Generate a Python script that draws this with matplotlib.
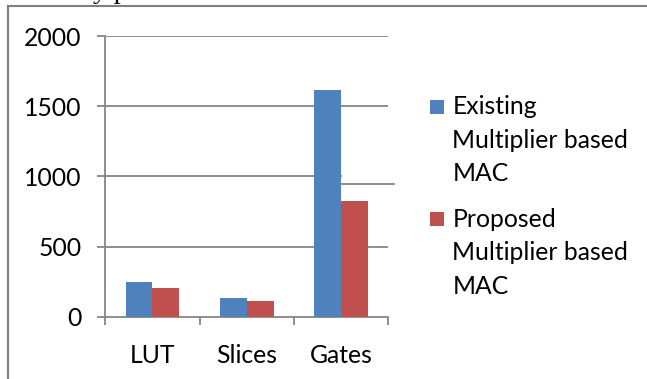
import matplotlib
matplotlib.use("Agg")
import matplotlib.pyplot as plt
from matplotlib.patches import Rectangle
from matplotlib.lines import Line2D

categories = ["LUT", "Slices", "Gates"]
existing = [245, 133, 1613]
proposed = [204, 112, 824]
series_labels = ["Existing\nMultiplier based\nMAC", "Proposed\nMultiplier based\nMAC"]
yticks = [0, 500, 1000, 1500, 2000]

BLUE = "#4F81BD"
RED = "#C0504D"
GRID = "#868686"
FONT = "Lato"
FS = 17.8

W, H = 647, 379
fig = plt.figure(figsize=(W / 100, H / 100), dpi=100)
fig.patch.set_facecolor("white")

# plot area in pixels (left, top, right, bottom)
L, T, R, B = 105.3, 36.0, 388.3, 316.7
ax = fig.add_axes([L / W, 1 - B / H, (R - L) / W, (B - T) / H])
ax.set_facecolor("none")

x = list(range(len(categories)))
bw = 0.285
ax.bar([i - bw / 2 for i in x], existing, width=bw, color=BLUE, zorder=3)
ax.bar([i + bw / 2 for i in x], proposed, width=bw, color=RED, zorder=3)

ax.set_xlim(-0.5, len(categories) - 0.5)
ax.set_ylim(0, 2000)
ax.set_yticks(yticks)
ax.set_yticklabels([str(v) for v in yticks])
ax.set_xticks(x)
ax.set_xticklabels(categories)
ax.set_xticks([i - 0.5 for i in range(len(categories) + 1)], minor=True)

for s in ["top", "right"]:
    ax.spines[s].set_visible(False)
for s in ["left", "bottom"]:
    ax.spines[s].set_color(GRID)
    ax.spines[s].set_linewidth(1.3)

ax.tick_params(axis="x", which="major", length=0, pad=20, labelsize=FS)
ax.tick_params(axis="x", which="minor", length=6, width=1.3, color=GRID, direction="out")
ax.tick_params(axis="y", length=6, width=1.3, color=GRID, direction="out", pad=11, labelsize=FS)
for lab in ax.get_xticklabels() + ax.get_yticklabels():
    lab.set_fontfamily(FONT)

# horizontal gridlines; the 1000 line is offset to the right of the tallest bar
x0, x1 = ax.get_xlim()
for v in yticks[1:]:
    if v == 1000:
        edge = x[-1]
        ax.plot([x0, edge], [v, v], color=GRID, lw=1.3, zorder=1)
        ax.plot([edge, x1 + 0.06], [v - 57, v - 57], color=GRID, lw=1.3,
                zorder=1, clip_on=False)
    else:
        ax.axhline(v, color=GRID, lw=1.3, zorder=1)

# outer frame of the chart object (top and left edges)
fig.add_artist(Line2D([7.5 / W, 1.0], [1 - 6 / H, 1 - 6 / H], color="#7f7f7f", lw=1.5))
fig.add_artist(Line2D([7.5 / W, 7.5 / W], [0, 1 - 6 / H], color="#7f7f7f", lw=1.5))

# body text running above the chart
fig.text(93 / W, 1 + 2.5 / H, "y p", ha="left", va="baseline",
         fontsize=20, fontfamily="Liberation Serif")

# legend
entries = [(BLUE, series_labels[0], 99.5), (RED, series_labels[1], 212.0)]
for color, label, top in entries:
    fig.add_artist(Rectangle((430 / W, 1 - (top + 14) / H), 14 / W, 14 / H,
                             facecolor=color, edgecolor="none", transform=fig.transFigure))
    fig.text(452.5 / W, 1 - (top - 4) / H, label, ha="left", va="top",
             fontsize=FS, fontfamily=FONT, linespacing=1.55)

fig.savefig("out.png", dpi=100)
